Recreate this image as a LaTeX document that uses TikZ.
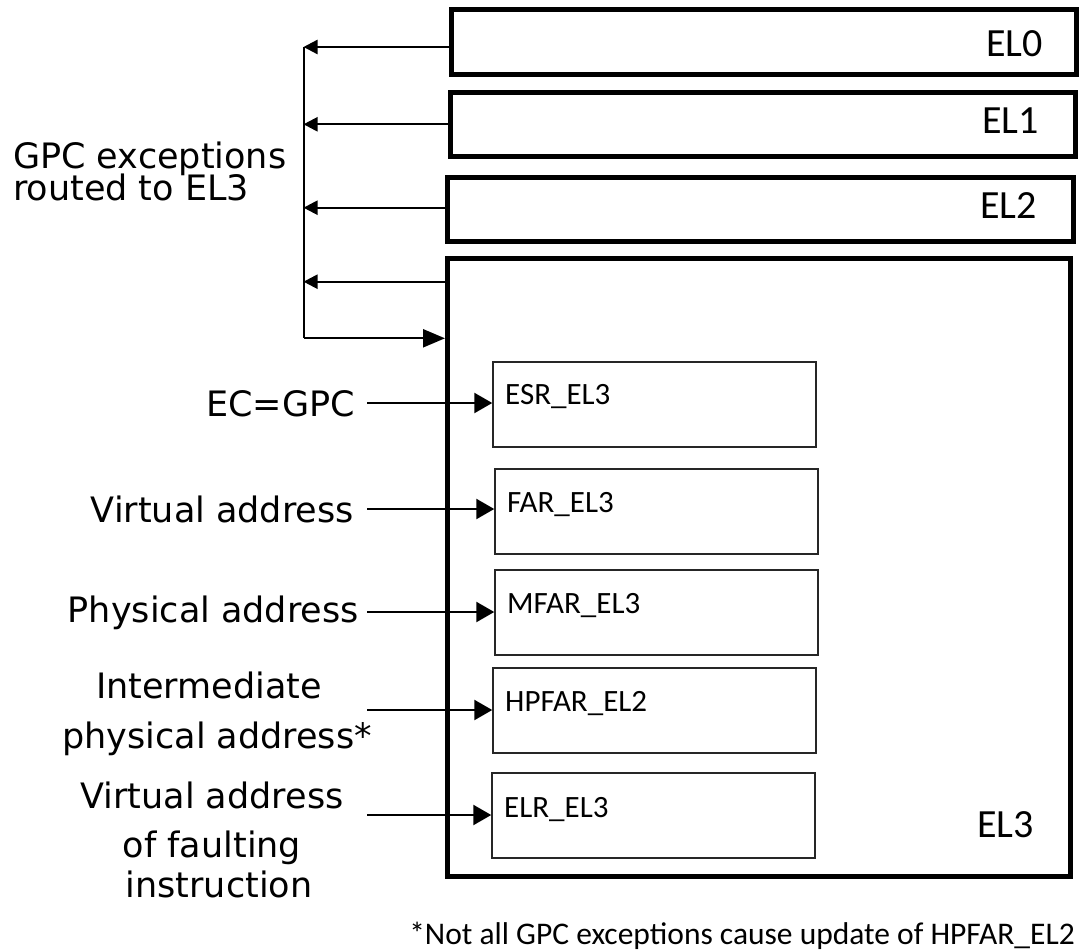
\documentclass[tikz,border=0pt]{standalone}
\usepackage{fontspec}
\setmainfont{Carlito}
\newfontfamily\dv{DejaVu Sans}
\usetikzlibrary{arrows.meta}
\begin{document}
\begin{tikzpicture}[x=1pt,y=-1pt,
  elbox/.style={draw, line width=5pt, rectangle, inner sep=0pt},
  regbox/.style={draw=black!85, line width=1.5pt, rectangle, inner sep=0pt, minimum width=323pt, minimum height=85pt},
  lbl/.style={font=\dv\fontsize{35}{42}\selectfont, inner sep=0pt},
  reglbl/.style={font=\fontsize{31}{37}\selectfont, inner sep=0pt, anchor=base west},
  ellbl/.style={font=\fontsize{40}{48}\selectfont, inner sep=0pt, anchor=base east},
  larr/.style={line width=2.3pt, -{Triangle[length=14pt,width=14pt]}},
  rarr/.style={line width=2.5pt, -{Triangle[length=18pt,width=20pt]}},
  barr/.style={line width=2.3pt, -{Triangle[length=22pt,width=18pt]}},
  brk/.style={line width=2pt}
]
\useasboundingbox (0,0) rectangle (1079,952);
\fill[white] (0,0) rectangle (1079,952);

% EL boxes
\node[elbox, minimum width=624.5pt, minimum height=65pt] (el0) at (763.75,42.5) {};
\node[elbox, minimum width=625pt, minimum height=64pt] (el1) at (762.5,124.5) {};
\node[elbox, minimum width=626pt, minimum height=64pt] (el2) at (760,209.5) {};
\node[elbox, minimum width=623pt, minimum height=617.5pt] (el3) at (759,567.25) {};

\node[ellbl] (t0) at (1043,57) {EL0};
\node[ellbl] (t1) at (1039,134) {EL1};
\node[ellbl] (t2) at (1037,219) {EL2};
\node[ellbl] (t3) at (1034,837) {EL3};

% register boxes
\node[regbox] (esr) at (654.5,404.5) {};
\node[regbox] (far) at (656.5,511.5) {};
\node[regbox] (mfar) at (656.5,612.5) {};
\node[regbox] (hpfar) at (654.5,710.5) {};
\node[regbox] (elr) at (653.5,815.5) {};

\node[reglbl] (tesr) at (505,404) {ESR\_EL3};
\node[reglbl] (tfar) at (507,512) {FAR\_EL3};
\node[reglbl] (tmfar) at (507,613) {MFAR\_EL3};
\node[reglbl] (thpfar) at (505,711) {HPFAR\_EL2};
\node[reglbl] (telr) at (504,817) {ELR\_EL3};

% bracket
\coordinate (b0) at (303.5,47);
\coordinate (b1) at (303.5,124.3);
\coordinate (b2) at (303.5,207.7);
\coordinate (b3) at (303.5,281.7);
\coordinate (b4) at (303.5,338.3);
\draw[brk] (b0) -- (b4);
\draw[larr] (el0.west |- b0) -- (b0);
\draw[larr] (el1.west |- b1) -- (b1);
\draw[larr] (el2.west |- b2) -- (b2);
\draw[larr] (el3.west |- b3) -- (b3);
\draw[barr] (b4) -- (el3.west |- b4);

\node[lbl, anchor=base west] (g1) at (13,169) {GPC exceptions};
\node[lbl, anchor=base west] (g2) at (13,201) {routed to EL3};

% register inputs
\coordinate (s1) at (367,403);
\coordinate (s2) at (367,509);
\coordinate (s3) at (367,612);
\coordinate (s4) at (367,710);
\coordinate (s5) at (367,815);
\draw[rarr] (s1) -- (esr.west |- s1);
\draw[rarr] (s2) -- (far.west |- s2);
\draw[rarr] (s3) -- (mfar.west |- s3);
\draw[rarr] (s4) -- (hpfar.west |- s4);
\draw[rarr] (s5) -- (elr.west |- s5);

\node[lbl, anchor=base east] (l1) at (355,416) {EC=GPC};
\node[lbl, anchor=base east] (l2) at (354,522) {Virtual address};
\node[lbl, anchor=base east] (l3) at (359,622) {Physical address};
\node[lbl, anchor=base] (l4a) at (209,698) {Intermediate};
\node[lbl, anchor=base west] (l4b) at (62,748) {physical address*};
\node[lbl, anchor=base] (l5a) at (212,808) {Virtual address};
\node[lbl, anchor=base] (l5b) at (212,857) {of faulting};
\node[lbl, anchor=base] (l5c) at (219,897) {instruction};

\node[font=\fontsize{31.5}{38}\selectfont, inner sep=0pt, anchor=base east] (fn) at (1075,944) {*Not all GPC exceptions cause update of HPFAR\_EL2};
\end{tikzpicture}
\end{document}
